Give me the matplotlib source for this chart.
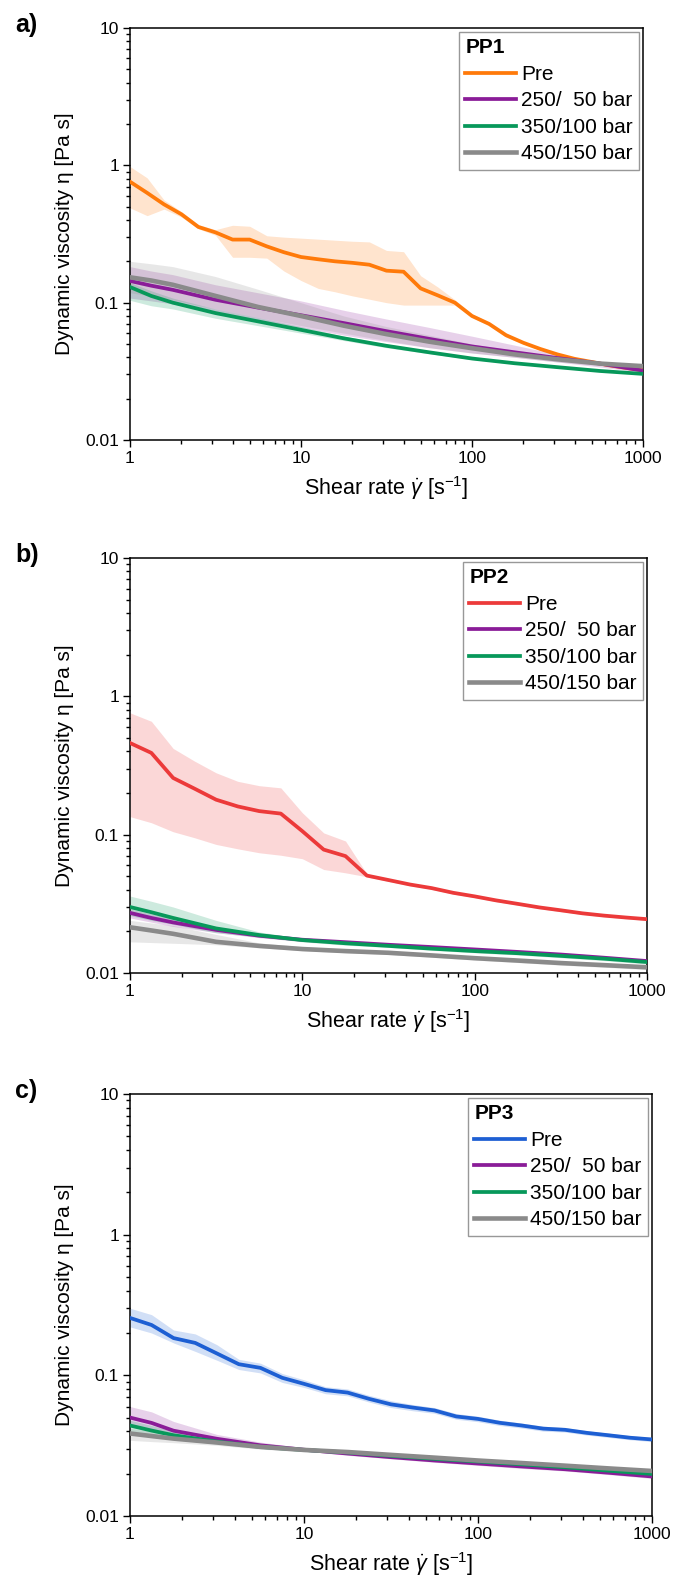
import numpy as np
import matplotlib
matplotlib.use("Agg")
import matplotlib.pyplot as plt
from matplotlib import ticker

plt.rcParams["font.family"] = ["Liberation Sans", "DejaVu Sans"]
plt.rcParams["mathtext.fontset"] = "custom"
plt.rcParams["mathtext.rm"] = "Liberation Sans"
plt.rcParams["mathtext.it"] = "Liberation Sans:italic"

labels = ["Pre", "250/  50 bar", "350/100 bar", "450/150 bar"]

# shear rates (1/s)
x10 = [1, 1.26, 1.58, 2, 2.51, 3.16, 3.98, 5.01, 6.31, 7.94, 10, 12.6, 15.8, 20, 25.1, 31.6,
       39.8, 50.1, 63.1, 79.4, 100, 126, 158, 200, 251, 316, 398, 501, 631, 794, 1000]
x8 = [1, 1.33, 1.78, 2.37, 3.16, 4.22, 5.62, 7.5, 10, 13.3, 17.8, 23.7, 31.6, 42.2, 56.2,
      75, 100, 133, 178, 237, 316, 422, 562, 750, 1000]
xc = [1, 1.33, 1.78, 3.16, 5.62, 10, 17.8, 31.6, 56.2, 100, 178, 316, 562, 1000]

# ---- PP1
a_pre = [0.76, 0.63, 0.52, 0.44, 0.356, 0.325, 0.288, 0.288, 0.257, 0.233, 0.215, 0.207, 0.2,
         0.195, 0.189, 0.171, 0.168, 0.127, 0.113, 0.1, 0.08, 0.07, 0.058, 0.051, 0.046, 0.042,
         0.039, 0.037, 0.035, 0.0335, 0.0322]
a_pre_hi = [0.98, 0.81, 0.56, 0.46, 0.37, 0.34, 0.366, 0.36, 0.307, 0.3, 0.295, 0.29, 0.285,
            0.28, 0.277, 0.24, 0.235, 0.157, 0.13, 0.105, 0.083, 0.072, 0.06, 0.052, 0.047,
            0.043, 0.0395, 0.0375, 0.0355, 0.034, 0.0326]
a_pre_lo = [0.49, 0.43, 0.48, 0.42, 0.345, 0.31, 0.214, 0.214, 0.211, 0.17, 0.145, 0.127, 0.12,
            0.112, 0.106, 0.1, 0.096, 0.096, 0.096, 0.096, 0.078, 0.068, 0.056, 0.05, 0.045,
            0.041, 0.0385, 0.0365, 0.0345, 0.033, 0.0318]
a_250 = [0.144, 0.133, 0.124, 0.105, 0.092, 0.081, 0.071, 0.062, 0.0545, 0.048, 0.0435, 0.0395,
         0.036, 0.032]
a_250_hi = [0.183, 0.17, 0.16, 0.135, 0.118, 0.103, 0.088, 0.076, 0.066, 0.057, 0.049, 0.042,
            0.037, 0.033]
a_250_lo = [0.108, 0.103, 0.098, 0.085, 0.075, 0.066, 0.058, 0.052, 0.047, 0.043, 0.04, 0.037,
            0.034, 0.031]
a_350 = [0.13, 0.112, 0.1, 0.084, 0.073, 0.0634, 0.055, 0.0485, 0.0435, 0.0392, 0.0362, 0.0339,
         0.0318, 0.0303]
a_350_hi = [0.14, 0.122, 0.108, 0.09, 0.078, 0.067, 0.057, 0.05, 0.0445, 0.04, 0.0368, 0.0343,
            0.032, 0.0306]
a_350_lo = [0.104, 0.095, 0.09, 0.077, 0.068, 0.06, 0.053, 0.047, 0.0425, 0.0385, 0.0357, 0.0335,
            0.0316, 0.03]
a_450 = [0.153, 0.145, 0.135, 0.112, 0.093, 0.08, 0.068, 0.059, 0.052, 0.0466, 0.042, 0.0387,
         0.036, 0.0345]
a_450_hi = [0.2, 0.192, 0.183, 0.155, 0.125, 0.1, 0.08, 0.067, 0.058, 0.05, 0.044, 0.04, 0.037,
            0.0355]
a_450_lo = [0.118, 0.112, 0.105, 0.09, 0.078, 0.068, 0.06, 0.053, 0.047, 0.043, 0.04, 0.037,
            0.035, 0.0335]

# ---- PP2
b_pre = [0.46, 0.39, 0.257, 0.215, 0.179, 0.16, 0.148, 0.142, 0.106, 0.078, 0.07, 0.0506, 0.047,
         0.0436, 0.0411, 0.038, 0.0358, 0.0335, 0.0316, 0.0298, 0.0284, 0.027, 0.026, 0.0252,
         0.0245]
b_pre_hi = [0.76, 0.66, 0.42, 0.34, 0.28, 0.243, 0.226, 0.218, 0.144, 0.103, 0.09, 0.052, 0.048,
            0.0445, 0.042, 0.0388, 0.0365, 0.0342, 0.0322, 0.0304, 0.029, 0.0275, 0.0265,
            0.0257, 0.025]
b_pre_lo = [0.135, 0.122, 0.105, 0.095, 0.085, 0.079, 0.074, 0.071, 0.067, 0.056, 0.053, 0.0496,
            0.046, 0.0427, 0.0403, 0.0372, 0.0351, 0.0328, 0.031, 0.0292, 0.0278, 0.0265,
            0.0255, 0.0247, 0.024]
b_250 = [0.0272, 0.025, 0.0232, 0.0205, 0.0186, 0.0174, 0.0167, 0.016, 0.0154, 0.0148, 0.0142,
         0.0136, 0.0129, 0.0122]
b_250_hi = [0.029, 0.0268, 0.0248, 0.0215, 0.0192, 0.0179, 0.0171, 0.0164, 0.0158, 0.0152,
            0.0146, 0.014, 0.0133, 0.0125]
b_250_lo = [0.025, 0.0233, 0.0217, 0.0196, 0.018, 0.0169, 0.0163, 0.0156, 0.015, 0.0144, 0.0138,
            0.0132, 0.0126, 0.0119]
b_350 = [0.03, 0.0275, 0.025, 0.021, 0.0188, 0.0173, 0.0164, 0.0157, 0.015, 0.0144, 0.0139,
         0.0133, 0.0127, 0.012]
b_350_hi = [0.036, 0.033, 0.03, 0.024, 0.0198, 0.0178, 0.0169, 0.0161, 0.0154, 0.0148, 0.0143,
            0.0137, 0.0131, 0.0124]
b_350_lo = [0.026, 0.024, 0.0225, 0.0195, 0.0182, 0.0168, 0.0159, 0.0153, 0.0146, 0.014, 0.0135,
            0.0129, 0.0123, 0.0116]
b_450 = [0.0214, 0.0203, 0.0192, 0.0168, 0.0157, 0.0149, 0.0144, 0.014, 0.0134, 0.0128, 0.0123,
         0.0118, 0.0114, 0.011]
b_450_hi = [0.024, 0.023, 0.022, 0.019, 0.0165, 0.0155, 0.0149, 0.0144, 0.0138, 0.0132, 0.0127,
            0.0122, 0.0118, 0.0114]
b_450_lo = [0.0168, 0.0166, 0.0164, 0.016, 0.0152, 0.0145, 0.014, 0.0136, 0.013, 0.0124, 0.0119,
            0.0114, 0.011, 0.0106]

# ---- PP3
c_pre = [0.256, 0.228, 0.184, 0.17, 0.143, 0.12, 0.113, 0.096, 0.087, 0.0785, 0.0754, 0.068,
         0.0622, 0.059, 0.0563, 0.051, 0.049, 0.046, 0.044, 0.0418, 0.041, 0.039, 0.0375, 0.036,
         0.035]
c_pre_hi = [0.3, 0.27, 0.21, 0.197, 0.165, 0.13, 0.122, 0.103, 0.093, 0.083, 0.08, 0.072, 0.066,
            0.062, 0.059, 0.0535, 0.0512, 0.048, 0.0458, 0.0435, 0.0425, 0.0404, 0.0388, 0.0372,
            0.0362]
c_pre_lo = [0.221, 0.2, 0.17, 0.148, 0.128, 0.11, 0.104, 0.089, 0.082, 0.074, 0.0715, 0.0645,
            0.059, 0.056, 0.0537, 0.0487, 0.0468, 0.044, 0.0422, 0.0401, 0.0395, 0.0376, 0.0362,
            0.0348, 0.0338]
c_250 = [0.0501, 0.0459, 0.0404, 0.0354, 0.0318, 0.0296, 0.0278, 0.0262, 0.0248, 0.0236, 0.0225,
         0.0215, 0.0203, 0.0191]
c_250_hi = [0.06, 0.055, 0.047, 0.038, 0.0335, 0.0305, 0.0286, 0.027, 0.0255, 0.0243, 0.0232,
            0.0221, 0.0209, 0.0197]
c_250_lo = [0.044, 0.041, 0.037, 0.033, 0.031, 0.029, 0.027, 0.0255, 0.0241, 0.0229, 0.0218,
            0.0209, 0.0197, 0.0185]
c_350 = [0.044, 0.0405, 0.0375, 0.0338, 0.031, 0.0295, 0.0283, 0.0268, 0.0255, 0.0244, 0.0233,
         0.0222, 0.021, 0.0199]
c_350_hi = [0.048, 0.044, 0.04, 0.0352, 0.032, 0.0302, 0.0289, 0.0274, 0.026, 0.0249, 0.0238,
            0.0227, 0.0215, 0.0204]
c_350_lo = [0.04, 0.037, 0.035, 0.0325, 0.0301, 0.0288, 0.0277, 0.0262, 0.025, 0.0239, 0.0228,
            0.0217, 0.0205, 0.0194]
c_450 = [0.0386, 0.037, 0.0355, 0.0333, 0.031, 0.0295, 0.0285, 0.0272, 0.026, 0.0248, 0.0238,
         0.0228, 0.0218, 0.0209]
c_450_hi = [0.042, 0.04, 0.038, 0.0348, 0.0322, 0.0304, 0.0293, 0.0279, 0.0266, 0.0254, 0.0244,
            0.0234, 0.0224, 0.0215]
c_450_lo = [0.0345, 0.0338, 0.0332, 0.0318, 0.0299, 0.0286, 0.0277, 0.0265, 0.0254, 0.0242,
            0.0232, 0.0222, 0.0212, 0.0203]

purple = "#8a1c98"
green = "#07985a"
grey = "#8a8a8a"

panels = [
    ("a)", "PP1", "#ff7a0a", x10, (a_pre, a_pre_lo, a_pre_hi),
     [(a_250, a_250_lo, a_250_hi), (a_350, a_350_lo, a_350_hi), (a_450, a_450_lo, a_450_hi)],
     (130, 643, 28, 440)),
    ("b)", "PP2", "#ec3a3a", x8, (b_pre, b_pre_lo, b_pre_hi),
     [(b_250, b_250_lo, b_250_hi), (b_350, b_350_lo, b_350_hi), (b_450, b_450_lo, b_450_hi)],
     (130, 647, 558, 973)),
    ("c)", "PP3", "#1d5fd3", x8, (c_pre, c_pre_lo, c_pre_hi),
     [(c_250, c_250_lo, c_250_hi), (c_350, c_350_lo, c_350_hi), (c_450, c_450_lo, c_450_hi)],
     (130, 652, 1094, 1516)),
]

W, H = 683, 1585
fig = plt.figure(figsize=(W / 100, H / 100), dpi=100)

for letter, title, pre_col, xp, pre, others, box in panels:
    l, r, t, b = box
    ax = fig.add_axes([l / W, 1 - b / H, (r - l) / W, (b - t) / H])
    cols = [pre_col, purple, green, grey]
    series = [(xp,) + pre] + [(xc,) + o for o in others]

    for (x, y, lo, hi), col in zip(series, cols):
        ax.fill_between(x, lo, hi, color=col, alpha=0.2, lw=0, zorder=1)
    for (x, y, lo, hi), col, lab in zip(series, cols, labels):
        lw = 3.3 if col == grey else 2.7
        ax.plot(x, y, color=col, lw=lw, label=lab, zorder=3)

    ax.set_xscale("log")
    ax.set_yscale("log")
    ax.set_xlim(1, 1000)
    ax.set_ylim(0.01, 10)
    fmt = ticker.FuncFormatter(lambda v, p: f"{v:g}")
    ax.xaxis.set_major_formatter(fmt)
    ax.yaxis.set_major_formatter(fmt)
    ax.xaxis.set_minor_formatter(ticker.NullFormatter())
    ax.yaxis.set_minor_formatter(ticker.NullFormatter())
    ax.tick_params(which="major", direction="out", length=5, width=1, labelsize=12.5, pad=3)
    ax.tick_params(which="minor", direction="out", length=3, width=1)
    for sp in ax.spines.values():
        sp.set_linewidth(1.1)

    ax.set_xlabel(r"Shear rate $\dot{\gamma}$ [s$^{-1}$]", fontsize=15.5, labelpad=6)
    ax.set_ylabel("Dynamic viscosity η [Pa s]", fontsize=15, labelpad=8)

    leg = ax.legend(loc="upper right", title=title, fontsize=15, frameon=True, fancybox=False,
                    edgecolor="#7f7f7f", alignment="left", handlelength=2.45,
                    handletextpad=0.22, borderpad=0.3, labelspacing=0.36, borderaxespad=0.2,
                    title_fontproperties={"weight": "bold", "size": 15})
    leg.get_frame().set_linewidth(1.0)

    fig.text(15 / W, 1 - (t - 3) / H, letter, fontsize=18, fontweight="bold",
             va="center", ha="left")

plt.savefig("out.png", dpi=100)
plt.close()
